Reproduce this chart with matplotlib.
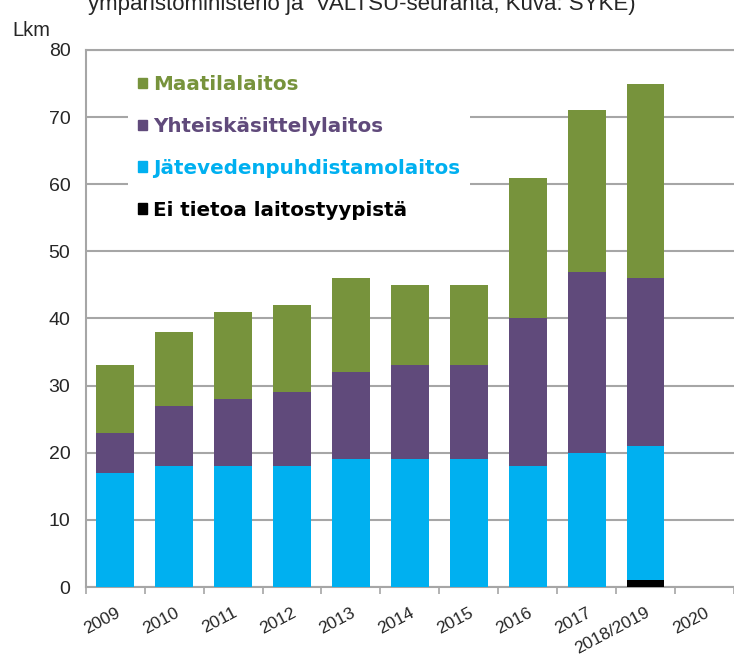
import matplotlib
matplotlib.use("Agg")
import matplotlib.pyplot as plt
from matplotlib.patches import Patch
import numpy as np

plt.rcParams['font.family'] = ['Liberation Sans', 'DejaVu Sans']

categories = ["2009", "2010", "2011", "2012", "2013", "2014", "2015", "2016", "2017", "2018/2019", "2020"]
ei_tietoa = [0, 0, 0, 0, 0, 0, 0, 0, 0, 1, 0]
jatevesi = [17, 18, 18, 18, 19, 19, 19, 18, 20, 20, 0]
yhteis = [6, 9, 10, 11, 13, 14, 14, 22, 27, 25, 0]
maatila = [10, 11, 13, 13, 14, 12, 12, 21, 24, 29, 0]

labels = ["Maatilalaitos", "Yhteiskäsittelylaitos", "Jätevedenpuhdistamolaitos", "Ei tietoa laitostyypistä"]
c_green, c_purple, c_blue, c_black = "#77933C", "#604A7B", "#00B0F0", "#000000"

fig = plt.figure(figsize=(7.34, 6.55), dpi=100)
ax = fig.add_axes([85.7/734, 1-587/655, 1-85.7/734, (587-50)/655])

x = np.arange(len(categories))
w = 0.64
b0 = np.zeros(len(categories))
ax.bar(x, ei_tietoa, w, bottom=b0, color=c_black, zorder=3)
b1 = b0 + np.array(ei_tietoa)
ax.bar(x, jatevesi, w, bottom=b1, color=c_blue, zorder=3)
b2 = b1 + np.array(jatevesi)
ax.bar(x, yhteis, w, bottom=b2, color=c_purple, zorder=3)
b3 = b2 + np.array(yhteis)
ax.bar(x, maatila, w, bottom=b3, color=c_green, zorder=3)

ax.set_xlim(-0.5, len(categories) - 0.5)
ax.set_ylim(0, 80)
ax.set_yticks(np.arange(0, 81, 10))
ax.yaxis.grid(True, color="#A6A6A6", linewidth=1.5, zorder=0)
ax.set_axisbelow(True)
ax.tick_params(axis='y', length=0, pad=11, labelsize=14, labelcolor="#262626")

ax.set_xticks(x)
ax.set_xticklabels(categories, rotation=28, ha='right', va='top', rotation_mode='anchor',
                   fontsize=12.5, color="#262626")
ax.set_xticks(np.arange(-0.5, len(categories), 1), minor=True)
ax.tick_params(axis='x', which='major', length=0, pad=13)
ax.tick_params(axis='x', which='minor', length=5, color="#A6A6A6", width=1.2)

for s in ['right']:
    ax.spines[s].set_visible(False)
for s in ['left', 'bottom', 'top']:
    ax.spines[s].set_color("#A6A6A6")
    ax.spines[s].set_linewidth(1.5)

handles = [Patch(color=c_green), Patch(color=c_purple), Patch(color=c_blue), Patch(color=c_black)]
leg = ax.legend(handles, labels, loc='upper left', bbox_to_anchor=(0.05, 0.99),
                frameon=True, facecolor='white', edgecolor='none', framealpha=1,
                fancybox=False, handlelength=0.45, handleheight=0.45, handletextpad=0.3,
                labelspacing=1.15, borderpad=0.5,
                prop={'family': 'DejaVu Sans', 'weight': 'bold', 'size': 14.3})
for t, c in zip(leg.get_texts(), [c_green, c_purple, c_blue, c_black]):
    t.set_color(c)
leg.set_zorder(5)

fig.text(12/734, 1-36/655, "Lkm", fontsize=14.5, color="#262626", va='baseline', ha='left')
fig.text(88/734, 1-10/655, "ympäristöministeriö ja  VALTSU-seuranta, Kuva: SYKE)",
         fontsize=16, color="#262626", va='baseline', ha='left')

fig.savefig("out.png", dpi=100)
